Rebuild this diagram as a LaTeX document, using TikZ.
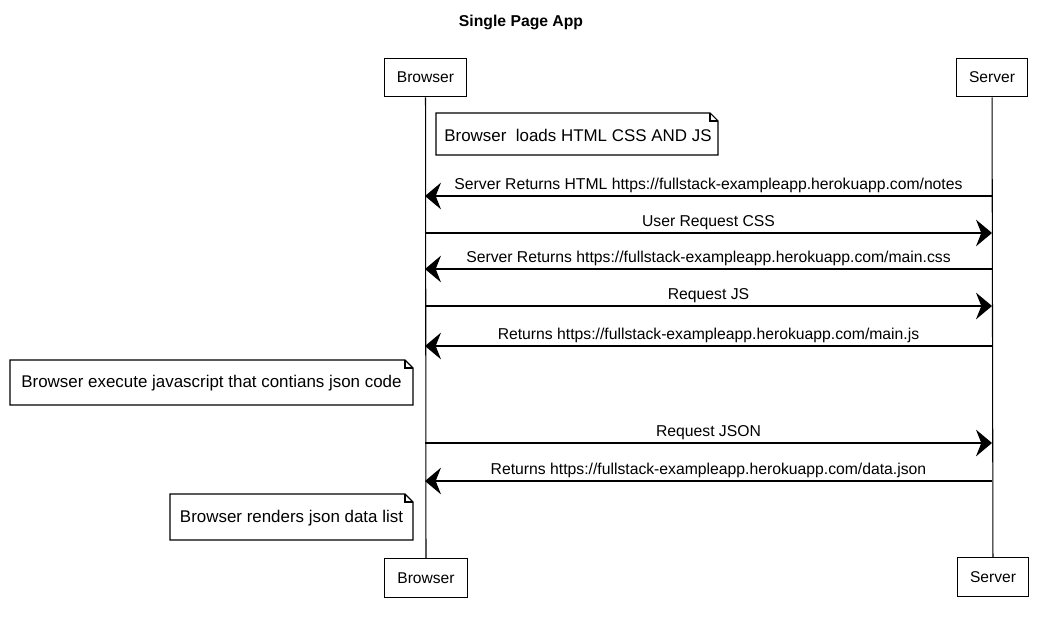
\documentclass[tikz,border=0pt]{standalone}
\usepackage{fontspec}
\setmainfont{Liberation Sans}
\usetikzlibrary{arrows.meta}

\tikzset{
  actor/.style={draw, line width=0.8pt, minimum height=29pt, inner sep=2pt, font=\fontsize{11.7}{13}\selectfont},
  notetext/.style={inner sep=0pt, font=\fontsize{12.7}{14}\selectfont},
  notebox/.style={draw, line width=0.8pt},
  lifeline/.style={draw, line width=0.8pt},
  msg/.style={draw, line width=0.9pt, -{Stealth[length=12pt, width=20pt, inset=4pt]}},
  msglabel/.style={above, inner sep=2pt, font=\fontsize{11.8}{13}\selectfont}
}

\begin{document}
\begin{tikzpicture}[x=0.75pt,y=0.75pt,yscale=-1,xscale=1]
        \useasboundingbox (0,0) rectangle (1042,625);

        % Title
        \node [font=\fontsize{11.8}{13}\selectfont\bfseries] (title) at (521,22) {Single Page App};

        % Actors top
        \node [actor, minimum width=62pt] (browserTop) at (425.5,77.5) {Browser};
        \node [actor, minimum width=53pt] (serverTop) at (992,77.5) {Server};
        % Actors bottom
        \node [actor, minimum width=62pt] (browserBot) at (426,578) {Browser};
        \node [actor, minimum width=53pt] (serverBot) at (993,577) {Server};

        % Lifelines
        \draw [lifeline] (browserTop) -- (browserBot);
        \draw [lifeline] (serverTop) -- (serverBot);

        %Shape: Note [Browser loads]
        \draw [notebox] (436,113) -- (710,113) -- (718,121) -- (718,155) -- (436,155) -- cycle ;
        \draw [notebox] (710,113) -- (710,121) -- (718,121) ;
        % Text Node
        \node [notetext] (loadNote) at (578,135) {Browser\ \ loads HTML CSS AND JS};

        % Message endpoints
        \coordinate (s1) at (992,196); \coordinate (b1) at (425,196);
        \coordinate (b2) at (425,233); \coordinate (s2) at (992,233);
        \coordinate (s3) at (992,269); \coordinate (b3) at (425,269);
        \coordinate (b4) at (425,306); \coordinate (s4) at (992,306);
        \coordinate (s5) at (992,346); \coordinate (b5) at (425,346);
        \coordinate (b6) at (425,443); \coordinate (s6) at (992,443);
        \coordinate (s7) at (992,481); \coordinate (b7) at (425,481);

        % Messages
        \draw [msg] (s1) -- (b1) node [msglabel, midway] (m1) {Server Returns HTML https://fullstack-exampleapp.herokuapp.com/notes};
        \draw [msg] (b2) -- (s2) node [msglabel, midway] (m2) {User Request CSS};
        \draw [msg] (s3) -- (b3) node [msglabel, midway] (m3) {Server Returns https://fullstack-exampleapp.herokuapp.com/main.css};
        \draw [msg] (b4) -- (s4) node [msglabel, midway] (m4) {Request JS};
        \draw [msg] (s5) -- (b5) node [msglabel, midway] (m5) {Returns https://fullstack-exampleapp.herokuapp.com/main.js};

        %Shape: Note [execute]
        \draw [notebox] (10,360) -- (405,360) -- (413,368) -- (413,405) -- (10,405) -- cycle ;
        \draw [notebox] (405,360) -- (405,368) -- (413,368) ;
        % Text Node
        \node [notetext] (execNote) at (211.5,383) {Browser execute javascript that contians json code};

        \draw [msg] (b6) -- (s6) node [msglabel, midway] (m6) {Request JSON};
        \draw [msg] (s7) -- (b7) node [msglabel, midway] (m7) {Returns https://fullstack-exampleapp.herokuapp.com/data.json};

        %Shape: Note [renders]
        \draw [notebox] (170,494) -- (405,494) -- (413,502) -- (413,540) -- (170,540) -- cycle ;
        \draw [notebox] (405,494) -- (405,502) -- (413,502) ;
        % Text Node
        \node [notetext] (renderNote) at (291.5,518) {Browser renders json data list};

\end{tikzpicture}
\end{document}
